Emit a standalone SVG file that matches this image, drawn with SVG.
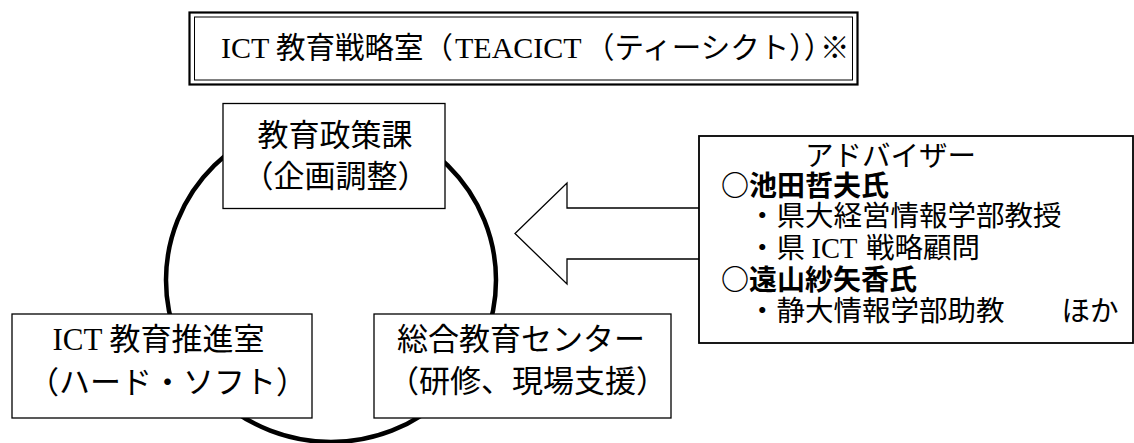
<svg xmlns="http://www.w3.org/2000/svg" width="1134" height="443" viewBox="0 0 1134 443">
<style>
.jp{font-family:"Noto Sans CJK JP","Noto Sans CJK SC",sans-serif;fill:#000}
.lat{font-family:"Liberation Serif","Noto Sans CJK JP",serif}
.half{font-feature-settings:"halt"}
.box{fill:#fff;stroke:#000;stroke-width:1.3}
.t31{font-size:31px}
.sub{font-size:28.5px}
.name{font-size:28px;font-weight:bold}
</style>
<rect width="1134" height="443" fill="#fff"/>
<g id="connectors">
<ellipse cx="331" cy="280" rx="165" ry="162" fill="none" stroke="#000" stroke-width="4.5"/>
<path d="M699,208 H567 V183 L515,233.5 L567,284 V259 H699" fill="#fff" stroke="#000" stroke-width="1.3"/>
</g>
<g id="title">
<rect x="189.5" y="12.5" width="668" height="72" fill="#fff" stroke="#000" stroke-width="2.2"/>
<rect x="194.5" y="17" width="658" height="63" fill="none" stroke="#000" stroke-width="1"/>
<text class="jp" font-size="29.5" y="58"><tspan class="lat" font-size="30" x="221">ICT </tspan><tspan x="276">教育戦略室（</tspan><tspan class="lat" font-size="30" x="455">TEACICT</tspan><tspan x="585">（ティーシクト</tspan><tspan class="half" x="789">））</tspan><tspan x="820">※</tspan></text>
</g>
<g id="node-policy">
<rect class="box" x="223" y="103.5" width="222" height="105"/>
<text class="jp t31" text-anchor="middle"><tspan x="335" y="146">教育政策課</tspan><tspan x="335.5" y="187">（企画調整）</tspan></text>
</g>
<g id="node-ict">
<rect class="box" x="12" y="314" width="300" height="104"/>
<text class="jp t31" text-anchor="middle"><tspan x="158.5" y="350"><tspan class="lat">ICT </tspan>教育推進室</tspan><tspan x="167.5" y="393">（ハード・ソフト）</tspan></text>
</g>
<g id="node-center">
<rect class="box" x="374" y="314" width="297" height="104"/>
<text class="jp t31" text-anchor="middle"><tspan x="521" y="350">総合教育センター</tspan><tspan x="527.5" y="392">（研修、現場支援）</tspan></text>
</g>
<g id="node-advisor">
<rect x="699" y="136" width="434" height="207" fill="#fff" stroke="#000" stroke-width="1.8"/>
<text class="jp sub" x="805" y="166">アドバイザー</text>
<text class="jp name" x="721" y="196">○池田哲夫氏</text>
<text class="jp sub" x="748" y="226">・県大経営情報学部教授</text>
<text class="jp sub" x="748" y="258">・県 <tspan class="lat">ICT</tspan> <tspan x="866">戦略顧問</tspan></text>
<text class="jp name" x="721" y="290">○遠山紗矢香氏</text>
<text class="jp sub" x="748" y="321">・静大情報学部助教　　ほか</text>
</g>
</svg>
